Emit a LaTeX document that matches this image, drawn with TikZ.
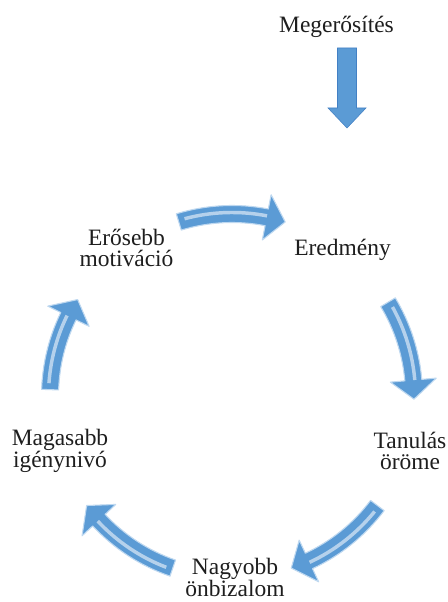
\documentclass[tikz,border=0pt]{standalone}
\usepackage{fontspec}
\setmainfont{Liberation Serif}
\newfontfamily\tnr{Liberation Serif}
\definecolor{arrowblue}{RGB}{91,155,213}
\definecolor{arrowlight}{RGB}{190,216,240}
\definecolor{arrowdark}{RGB}{66,128,196}
\definecolor{txt}{RGB}{30,30,30}
\tikzset{
  lbl/.style={font=\tnr\fontsize{17.6}{16}\selectfont, inner sep=0pt, anchor=base, text=txt, align=center},
  cyc/.style={fill=arrowblue, draw=arrowlight, line width=0.8pt, line join=round},
  hl/.style={draw=white, opacity=0.55, line width=2.6pt},
  blockarrow/.style={fill=arrowblue, draw=arrowdark, line width=0.4pt}
}
\newcommand{\cycarrow}[2]{%
  \pgfmathsetmacro{\hb}{#2+6}%
  \pgfmathsetmacro{\ta}{#1-2}%
  \filldraw[cyc] ([shift={(C)}]#1:190.5) arc[start angle=#1, end angle=\hb, radius=190.5]
    -- ([shift={(C)}]\hb:205) -- ([shift={(C)}]#2:182) -- ([shift={(C)}]\hb:159)
    -- ([shift={(C)}]\hb:173.5) arc[start angle=\hb, end angle=#1, radius=173.5] -- cycle;
  \draw[hl] ([shift={(C)}]\ta:183.5) arc[start angle=\ta, end angle=\hb, radius=183.5];
}
\begin{document}
\begin{tikzpicture}[x=0.75pt, y=0.75pt]
\fill[white] (0,0) rectangle (448,602);
\useasboundingbox (0,0) rectangle (448,602);
\coordinate (C) at (232,206);

% labels (anchor = baseline of last line)
\node[lbl] (meg) at (336.5,569) {Megerősítés};
\node[lbl] (ered) at (342.5,346) {Eredmény};
\node[lbl] (tan) at (410,132) {Tanulás\\öröme};
\node[lbl] (nagy) at (235,5) {Nagyobb\\önbizalom};
\node[lbl] (mag) at (60,134) {Magasabb\\igénynivó};
\node[lbl] (ero) at (126.5,335) {Erősebb\\motiváció};

% straight down arrow
\filldraw[blockarrow] (337.5,554) -- (356.5,554) -- (356.5,494) -- (366,494)
  -- (347,474) -- (328,494) -- (337.5,494) -- cycle;

% cycle arrows
\cycarrow{107}{73}
\cycarrow{31}{-1}
\cycarrow{-37}{-71}
\cycarrow{-109}{-143}
\cycarrow{-182}{-212}
\end{tikzpicture}
\end{document}
